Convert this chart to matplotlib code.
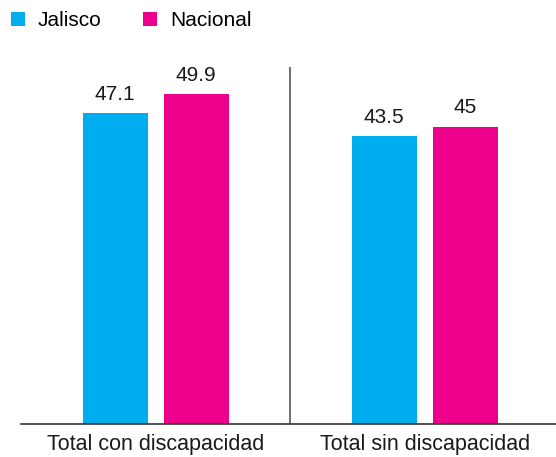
import matplotlib.pyplot as plt
import numpy as np

plt.rcParams['font.family'] = ['Liberation Sans', 'DejaVu Sans']

categories = ['Total con discapacidad', 'Total sin discapacidad']
jalisco = [47.1, 43.5]
nacional = [49.9, 45]
series_names = ['Jalisco', 'Nacional']
colors = ['#00AEEF', '#EC008C']

fig = plt.figure(figsize=(5.56, 4.57), dpi=100)
# axes runs a bit past the right edge so the groups sit where the original has them
ax = fig.add_axes([21.3 / 556, 33 / 457, 538 / 556, 357 / 457])

x = np.arange(len(categories))
w = 0.2405
off = 0.1506
b1 = ax.bar(x - off, jalisco, w, color=colors[0], label=series_names[0])
b2 = ax.bar(x + off, nacional, w, color=colors[1], label=series_names[1])

for bars, vals in [(b1, jalisco), (b2, nacional)]:
    for rect, v in zip(bars, vals):
        ax.annotate(f'{v:g}', (rect.get_x() + rect.get_width() / 2, v),
                    xytext=(0, 6.5), textcoords='offset points',
                    ha='center', va='bottom', fontsize=15, color='#1a1a1a')

ax.set_xlim(-0.5, 1.5)
ax.set_ylim(0, 54)
ax.axvline(0.5, color='#555555', lw=1.2)

for s in ['top', 'right', 'left']:
    ax.spines[s].set_visible(False)
ax.spines['bottom'].set_color('#333333')
ax.spines['bottom'].set_linewidth(1.2)
ax.set_yticks([])
ax.set_xticks(x)
ax.set_xticklabels(categories, fontsize=15.5, color='#1a1a1a')
ax.tick_params(axis='x', length=0, pad=7.5)

fig.legend(loc='upper left', bbox_to_anchor=(11 / 556, 1 - 11 / 457), ncol=2, frameon=False,
           fontsize=15, handlelength=0.67, handleheight=0.67, handletextpad=0.62,
           columnspacing=2.0, borderpad=0, borderaxespad=0)

fig.savefig('out.png', dpi=100)
